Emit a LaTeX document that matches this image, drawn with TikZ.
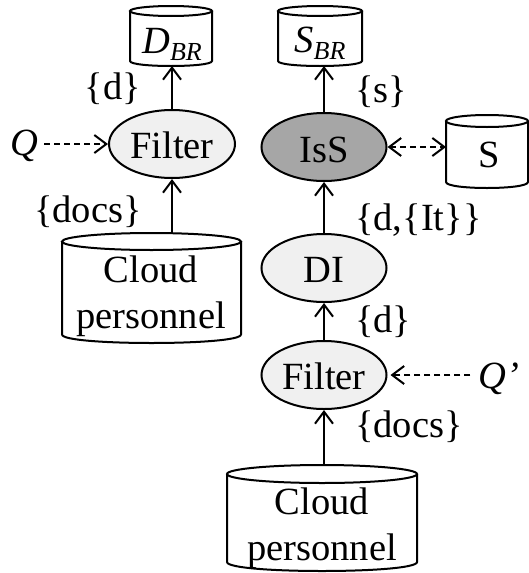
\documentclass[tikz,border=0pt]{standalone}
\usepackage{fontspec}
\setmainfont{Liberation Serif}
\usetikzlibrary{arrows.meta,calc,shapes.geometric}

\definecolor{procfill}{HTML}{F0F0F0}
\definecolor{darkfill}{HTML}{A6A6A6}

\tikzset{
  every node/.style={font=\fontsize{38.5}{46}\selectfont},
  outline/.style={line width=2pt},
  proc/.style={ellipse, draw, line width=2pt, fill=procfill, minimum width=#1, minimum height=68pt, inner sep=0pt},
  proc/.default=125pt,
  cylbody/.style={rectangle, draw=none, inner sep=0pt, outer sep=0pt},
  flow/.style={line width=2pt, -{Straight Barb[length=12pt,width=18pt,line width=2pt]}},
  query/.style={line width=2pt, dash pattern=on 6pt off 4pt, -{Straight Barb[length=12pt,width=18pt,line width=2pt]}},
  query2/.style={line width=2pt, dash pattern=on 6pt off 4pt, {Straight Barb[length=12pt,width=18pt,line width=2pt]}-{Straight Barb[length=12pt,width=18pt,line width=2pt]}},
  txt/.style={inner sep=0pt, anchor=base},
  lbl/.style={inner sep=0pt, anchor=base west},
}

% database cylinder: name, x1, x2, ytop, ybottom, radius of the end caps
\newcommand\dbcyl[6]{%
  \pgfmathsetmacro\cylw{#3-#2}\pgfmathsetmacro\cylh{#5-#4}%
  \pgfmathsetmacro\cylcx{(#2+#3)/2}\pgfmathsetmacro\cylcy{(#4+#5)/2}%
  \pgfmathsetmacro\cylk{4/3*#6}%
  \node[cylbody, minimum width=\cylw pt, minimum height=\cylh pt] (#1) at (\cylcx,\cylcy) {};
  \draw[outline] (\cylcx,#4+#6) ellipse [x radius=\cylw/2, y radius=#6];
  \draw[outline] (#2,#4+#6) -- (#2,#5-#6)
     .. controls (#2,#5-#6+\cylk) and (#3,#5-#6+\cylk) .. (#3,#5-#6) -- (#3,#4+#6);
}

\newcommand\subBR{\raisebox{-7pt}{\fontsize{26}{26}\selectfont\itshape BR}}

\begin{document}
\begin{tikzpicture}[x=1pt,y=-1pt]
\useasboundingbox (0,0) rectangle (529,573);

% ---- left branch ----
\dbcyl{dbr}{130}{212}{6}{66}{5}
\node[txt] (dbrtxt) at (172,53) {\textit{D}\subBR};
\node[proc=126pt] (filterL) at (172,144) {};
\node[txt] (filterLtxt) at (172,158) {Filter};
\dbcyl{cloudL}{62}{241}{233}{343}{8.5}
\node[txt, align=center] (cloudLtxt) at (151,328) {Cloud\\personnel};
\node[txt] (q) at (24,155) {\textit{Q}};

\draw[flow] (filterL.north) -- (filterL.north |- dbr.south);
\draw[flow] (filterL.south |- cloudL.north) -- (filterL.south);
\draw[query] ($(q.east |- filterL.west)+(6,0)$) -- (filterL.west);

\node[txt] (lblDL) at (113,99) {\{d\}};
\node[txt] (lblDocsL) at (88,222) {\{docs\}};

% ---- right branch ----
\dbcyl{sbr}{278}{362}{6}{66}{5}
\node[txt] (sbrtxt) at (320,52) {\textit{S}\subBR};
\node[proc, fill=darkfill] (iss) at (324,147) {};
\node[txt] (isstxt) at (324,162) {IsS};
\dbcyl{sdb}{446}{528}{115}{188}{6}
\node[txt] (sdbtxt) at (489,167) {S};
\node[proc] (di) at (324,268) {};
\node[txt] (ditxt) at (324,282) {DI};
\node[proc] (filterR) at (324,375) {};
\node[txt] (filterRtxt) at (324,389) {Filter};
\dbcyl{cloudR}{227}{417}{465}{571}{9}
\node[txt, align=center] (cloudRtxt) at (322,560) {Cloud\\personnel};
\node[txt] (q2) at (499,388) {\textit{Q’}};

\draw[flow] (iss.north) -- (iss.north |- sbr.south);
\draw[query2] (iss.east) -- (iss.east -| sdb.west);
\draw[flow] (di.north) -- (iss.south);
\draw[flow] (filterR.north) -- (di.south);
\draw[flow] (filterR.south |- cloudR.north) -- (filterR.south);
\draw[query] ($(q2.west |- filterR.east)+(-8,0)$) -- ($(filterR.east)+(3,0)$);

\node[lbl] (lblS) at (355,102) {\{s\}};
\node[lbl] (lblDIt) at (355,230) {\{d,\{It\}\}};
\node[lbl] (lblDR) at (355,332) {\{d\}};
\node[lbl] (lblDocsR) at (355,437) {\{docs\}};
\end{tikzpicture}
\end{document}
